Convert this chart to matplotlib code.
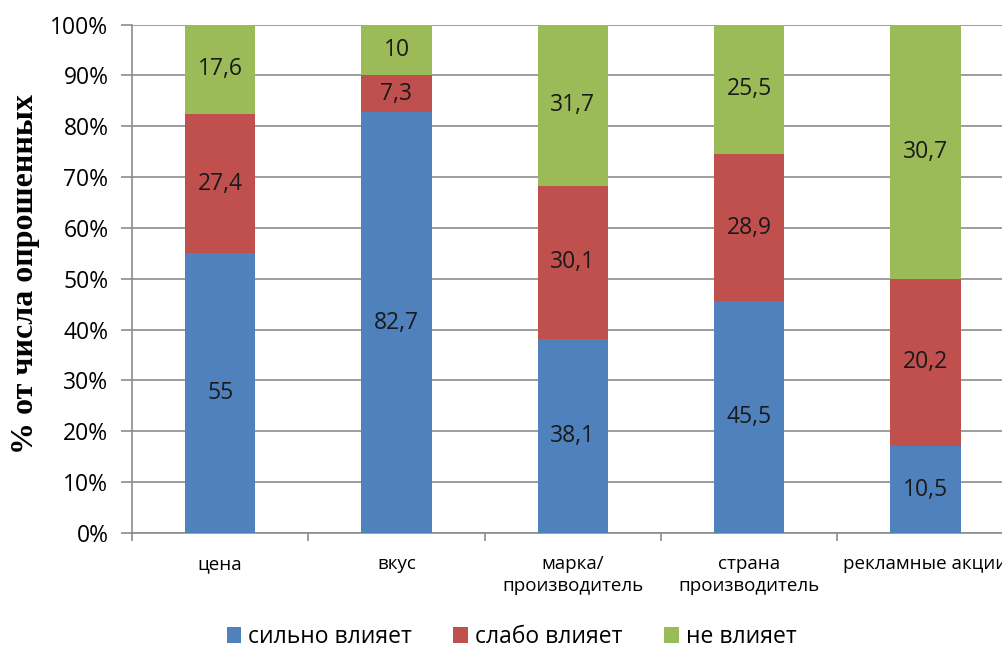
import numpy as np
import matplotlib.pyplot as plt

categories = ['цена', 'вкус', 'марка/\nпроизводитель', 'страна\nпроизводитель', 'рекламные акции']
strong = [55, 82.7, 38.1, 45.5, 10.5]
weak = [27.4, 7.3, 30.1, 28.9, 20.2]
none_ = [17.6, 10, 31.7, 25.5, 30.7]
series_names = ['сильно влияет', 'слабо влияет', 'не влияет']
colors = ['#4F81BD', '#C0504D', '#9BBB59']

plt.rcParams['font.family'] = ['Open Sans', 'DejaVu Sans']

raw = np.array([strong, weak, none_], dtype=float)
share = raw / raw.sum(axis=0) * 100  # 100% stacked

fig = plt.figure(figsize=(10.03, 6.5), dpi=100)
ax = fig.add_axes([0.1316, 0.18, 0.879, 0.7823])

x = np.arange(len(categories))
bottom = np.zeros(len(categories))
for i in range(3):
    ax.bar(x, share[i], bottom=bottom, width=0.4, color=colors[i],
           label=series_names[i], zorder=3)
    for j in range(len(categories)):
        txt = f'{raw[i, j]:g}'.replace('.', ',')
        ax.text(x[j], bottom[j] + share[i, j] / 2, txt, ha='center', va='center',
                fontsize=16.5, color='#1a1a1a', zorder=4)
    bottom += share[i]

ax.set_xlim(-0.5, len(categories) - 0.5)
ax.set_ylim(0, 100)
ax.set_yticks(np.arange(0, 101, 10))
ax.set_yticklabels([f'{v}%' for v in range(0, 101, 10)], fontsize=16.5)
ax.yaxis.grid(True, color='#8c8c8c', linewidth=1.2, zorder=0)
ax.tick_params(axis='y', length=8, color='#8c8c8c', width=1.2, pad=9)

ax.set_xticks(x)
ax.set_xticklabels(categories, fontsize=13.5, linespacing=1.3)
ax.set_xticks(np.arange(-0.5, len(categories)), minor=True)
ax.tick_params(axis='x', which='major', length=0, pad=16)
ax.tick_params(axis='x', which='minor', length=6, color='#8c8c8c', width=1.2)

for s in ['top', 'right']:
    ax.spines[s].set_visible(False)
for s in ['left', 'bottom']:
    ax.spines[s].set_color('#8c8c8c')
    ax.spines[s].set_linewidth(1.2)

fig.text(0.025, 0.578, '% от числа опрошенных', rotation=90, ha='center', va='center',
         fontsize=23, fontweight='bold', family=['Liberation Serif', 'DejaVu Serif'])

fig.legend(loc='center', bbox_to_anchor=(0.51, 0.02), ncol=3, frameon=False,
           fontsize=16.5, handlelength=0.65, handleheight=0.65, handletextpad=0.3,
           columnspacing=1.8)

fig.savefig('out.png', dpi=100)
